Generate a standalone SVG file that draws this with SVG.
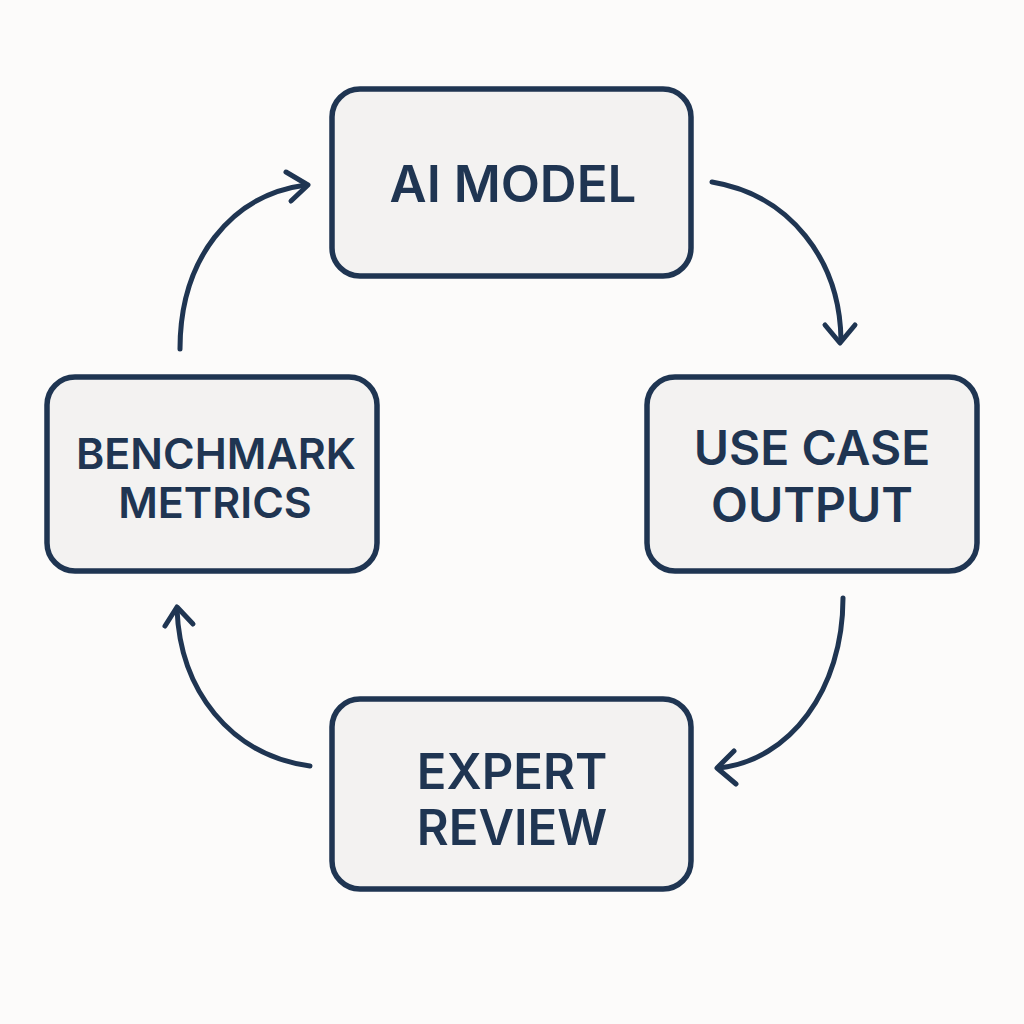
<svg xmlns="http://www.w3.org/2000/svg" width="1024" height="1024" viewBox="0 0 1024 1024">
<style>
.box{fill:#f3f2f1;stroke:#1f3552;stroke-width:5.5}
.lbl{font-family:Inter,"Liberation Sans",sans-serif;font-weight:600;fill:#1f3552;text-anchor:middle}
.con{fill:none;stroke:#1f3552;stroke-width:5;stroke-linecap:round;stroke-linejoin:round}
</style>
<rect width="1024" height="1024" fill="#fcfbfa"/>
<g id="ai-model"><rect class="box" x="332" y="89" width="359" height="187" rx="28"/><text class="lbl" x="513" y="202" font-size="51">AI MODEL</text></g>
<g id="use-case-output"><rect class="box" x="647" y="377" width="330" height="194" rx="28"/><text class="lbl" x="812" y="465" font-size="48">USE CASE</text><text class="lbl" x="812" y="522" font-size="48">OUTPUT</text></g>
<g id="expert-review"><rect class="box" x="332" y="699" width="359" height="190" rx="28"/><text class="lbl" x="512" y="789" font-size="49">EXPERT</text><text class="lbl" x="512" y="845" font-size="49">REVIEW</text></g>
<g id="benchmark-metrics"><rect class="box" x="47" y="377" width="330" height="194" rx="28"/><text class="lbl" x="216" y="469" font-size="43">BENCHMARK</text><text class="lbl" x="215" y="518" font-size="43">METRICS</text></g>
<g id="connectors">
<path class="con" d="M180,349 C180,260 230,195 306,185"/><path class="con" d="M286,172 L308,185 L291,201"/>
<path class="con" d="M712,182 C790,195 840,260 841,340"/><path class="con" d="M825,325 L840,343 L855,325"/>
<path class="con" d="M843,598 C843,690 790,760 719,768"/><path class="con" d="M734,751 L717,768 L736,784"/>
<path class="con" d="M310,766 C230,755 180,690 177,609"/><path class="con" d="M165,626 L177,607 L193,624"/>
</g>
</svg>
